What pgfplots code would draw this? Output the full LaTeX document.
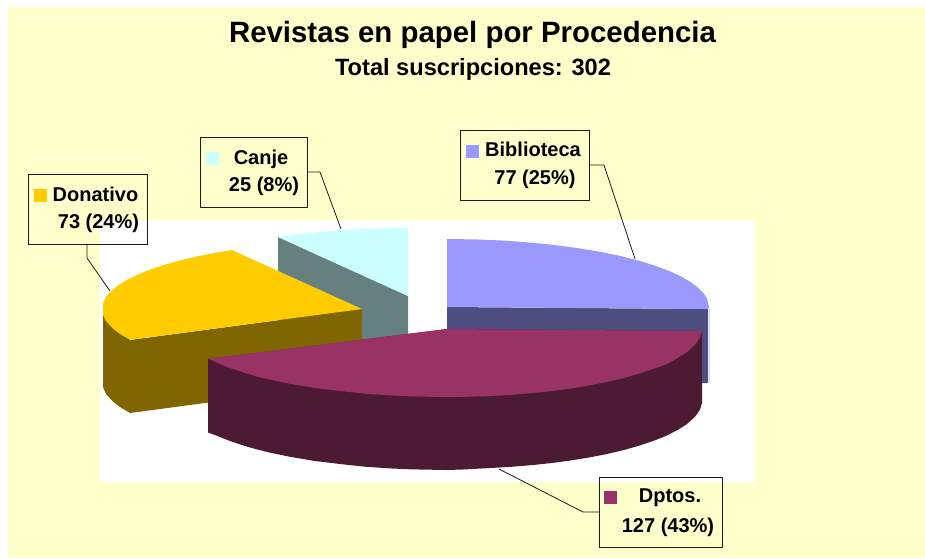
\documentclass[border=0pt]{standalone}
\usepackage{pgfplots}
\pgfplotsset{compat=1.18}
\usepackage{fontspec}
\setmainfont{Liberation Sans}
\definecolor{bgy}{HTML}{FFFFCC}
\definecolor{bib}{HTML}{9999FF}
\definecolor{bibs}{HTML}{4D4D80}
\definecolor{dpt}{HTML}{993366}
\definecolor{dpts}{HTML}{4D1A33}
\definecolor{don}{HTML}{FFCC00}
\definecolor{dons}{HTML}{806600}
\definecolor{can}{HTML}{CCFFFF}
\definecolor{cans}{HTML}{668080}
\definecolor{ln}{HTML}{1A1A1A}
\newcommand{\lab}[4]{\node[anchor=base,inner sep=0pt,font=\fontsize{#4}{#4}\selectfont\bfseries] at (axis cs:#1,#2) {#3};}
\begin{document}
\begin{tikzpicture}
\begin{axis}[
  scale only axis, width=925pt, height=558pt,
  xmin=0, xmax=925, ymin=0, ymax=558, y dir=reverse,
  hide axis, clip=true,
  every axis plot/.append style={line join=round},
]
% page and plot area
\addplot[fill=white,draw=none] coordinates {(0,0)(925,0)(925,558)(0,558)} -- cycle;
\addplot[fill=bgy,draw=none] coordinates {(8,7)(925,7)(925,558)(8,558)} -- cycle;
\addplot[fill=white,draw=none] coordinates {(100,220)(755,220)(755,482)(100,482)} -- cycle;
% Canje
\addplot[fill=cans,draw=none] coordinates {(278,237)(408,296)(408,345)(278,345)} -- cycle;
\addplot[fill=can,draw=none] coordinates {(278,237)(288,235.7)(297,234.5)(310,233)(325,231.5)(340,230.4)(356,229.4)(373,228.6)(390,228.2)(408,228)(408,296)} -- cycle;
% Biblioteca
\addplot[fill=bibs,draw=none] coordinates {(447,307)(708,309)(708,383)(447,383)} -- cycle;
\addplot[draw=bib!45!white,line width=0.8pt] coordinates {(709,309)(709,383)};
\addplot[fill=bib,draw=none] coordinates {(447,239)(475,239.4)(500,240.4)(525,242.1)(550,244.5)(575,247.7)(600,251.8)(620,255.9)(640,261)(655,265.7)(670,271.3)(680,275.9)(690,281.6)(697,286.7)(703,292.5)(707,298.6)(709,307)(708,309)(447,307)} -- cycle;
% Donativo
\addplot[fill=dons,draw=none] coordinates {(103,305)(103,387)(106,394)(113,401.6)(120,407)(130,413)(362,382)(362,309)(130,340)} -- cycle;
\addplot[fill=don,draw=none] coordinates {(362,309)(232,250.1)(220,252)(208,254.2)(197,256.4)(183,259.7)(170,263.2)(158,266.8)(147,270.8)(137,275)(127,279.9)(118,285.5)(110,292.3)(106,297)(103,303)(103,315)(106,321)(113,328.6)(120,333.9)(130,339.7)} -- cycle;
% Dptos
\addplot[fill=dpts,draw=none] coordinates {(208,359)(208,432.5)(218,436.2)(230,441)(243,445.4)(257,449.4)(270,452.6)(290,456.8)(315,461)(340,464)(365,466.7)(390,468.4)(410,469.3)(430,469.7)(447,470)(463,469.5)(487,468.2)(510,466.9)(533,465)(550,463.2)(570,460.6)(590,457.3)(607,454)(625,449.7)(640,445.4)(655,440.3)(667,435.4)(678,429.8)(687,424)(695,416.8)(700,409.5)(702,403)(702,331)(447,329)} -- cycle;
\addplot[fill=dpt,draw=none] coordinates {(208,358.7)(447,329)(702,331)(700,337.5)(695,344.8)(687,352)(678,357.8)(667,364)(655,368.3)(640,373.4)(625,377.7)(607,382)(590,385.3)(570,388.6)(550,391.2)(533,393)(510,394.9)(487,396.2)(463,396.9)(447,397)(430,396.8)(410,396.3)(390,395.4)(365,393.7)(340,391)(315,388)(290,383.8)(270,379.6)(257,376.4)(243,372.4)(230,368)(218,363.2)} -- cycle;
% leader lines
\addplot[draw=ln,line width=0.8pt] coordinates {(307,172)(320,172)(341,229)};
\addplot[draw=ln,line width=0.8pt] coordinates {(87,244)(87,258)(110,291)};
\addplot[draw=ln,line width=0.8pt] coordinates {(589,165)(604,165)(635,259)};
\addplot[draw=ln,line width=0.8pt] coordinates {(599,512)(583,512)(499,469)};
% label boxes
\addplot[draw=ln,line width=1pt] coordinates {(200,137)(307,137)(307,207)(200,207)} -- cycle;
\addplot[draw=ln,line width=1pt] coordinates {(28,174)(147,174)(147,244)(28,244)} -- cycle;
\addplot[draw=ln,line width=1pt] coordinates {(460,130)(589,130)(589,200)(460,200)} -- cycle;
\addplot[draw=ln,line width=1pt] coordinates {(599,477)(722,477)(722,547)(599,547)} -- cycle;
% keys
\addplot[fill=can,draw=none] coordinates {(206,152)(219,152)(219,165)(206,165)} -- cycle;
\addplot[fill=don,draw=none] coordinates {(34,189)(47,189)(47,202)(34,202)} -- cycle;
\addplot[fill=bib,draw=none] coordinates {(466,145)(479,145)(479,158)(466,158)} -- cycle;
\addplot[fill=dpt,draw=none] coordinates {(604,491)(617,491)(617,504)(604,504)} -- cycle;
% text
\lab{472.5}{42}{Revistas en papel por Procedencia}{29.4}
\lab{473}{75}{Total suscripciones: 302}{23.6}
\lab{261}{164}{Canje}{20}
\lab{264}{191}{25 (8\%)}{20}
\lab{95.5}{201}{Donativo}{20}
\lab{98.5}{228}{73 (24\%)}{20}
\lab{533}{156}{Biblioteca}{20}
\lab{535}{184}{77 (25\%)}{20}
\lab{670}{502.5}{Dptos.}{20}
\lab{668}{532}{127 (43\%)}{20}
\end{axis}
\end{tikzpicture}
\end{document}
